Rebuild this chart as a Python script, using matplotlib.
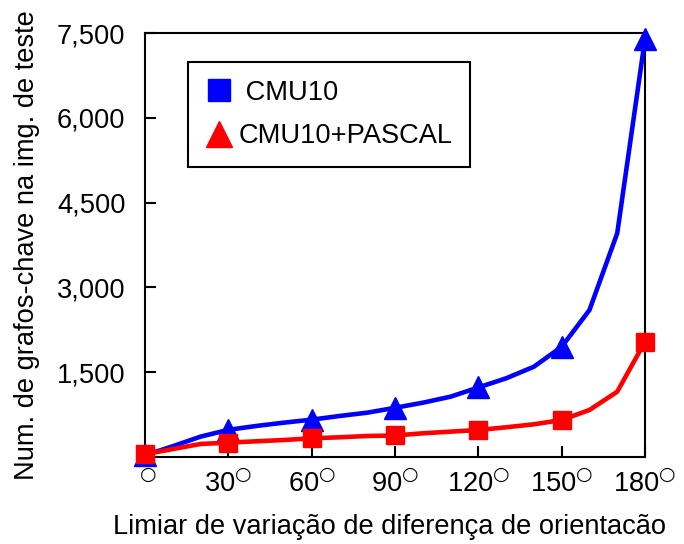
import matplotlib
matplotlib.use("Agg")
import matplotlib.pyplot as plt
from matplotlib.lines import Line2D

# thresholds (degrees), every 10
angles = [0, 10, 20, 30, 40, 50, 60, 70, 80, 90, 100, 110, 120, 130, 140, 150, 160, 170, 180]
cmu10 = [30, 190, 360, 480, 548, 607, 660, 725, 784, 870, 960, 1067, 1230, 1392, 1597, 1950, 2600, 3960, 7400]
cmu10_pascal = [50, 140, 230, 253, 277, 300, 330, 348, 371, 380, 419, 448, 477, 525, 578, 654, 831, 1155, 2040]
marker_angles = [0, 30, 60, 90, 120, 150, 180]

xtick_vals = [0, 30, 60, 90, 120, 150, 180]
xtick_labels = [" $^{\\bigcirc}$"] + [f"{v}$^{{\\bigcirc}}$" for v in xtick_vals[1:]]
ytick_vals = [1500, 3000, 4500, 6000, 7500]
ytick_labels = ["1,500", "3,000", "4,500", "6,000", "7,500"]

FS = 19.6
plt.rcParams["font.family"] = ["Liberation Sans", "DejaVu Sans"]
plt.rcParams["font.size"] = FS

fig = plt.figure(figsize=(6.84, 5.44), dpi=100)
ax = fig.add_axes([0.212, 0.16, 0.731, 0.779])

mk = [angles.index(a) for a in marker_angles]
ax.plot(angles, cmu10, color="#0000ff", lw=3.3, marker="^", ms=16,
        markevery=mk, clip_on=False, zorder=3)
ax.plot(angles, cmu10_pascal, color="#ff0000", lw=3.3, marker="s", ms=12.5,
        markevery=mk, clip_on=False, zorder=4)

ax.set_xlim(0, 180)
ax.set_ylim(0, 7500)
ax.set_xticks(xtick_vals)
ax.set_xticklabels(xtick_labels)
ax.set_yticks(ytick_vals)
ax.set_yticklabels(ytick_labels)
ax.tick_params(axis="both", direction="in", length=8, width=1.5, labelsize=FS)
ax.tick_params(axis="y", pad=14)
ax.tick_params(axis="x", pad=10)
for s in ax.spines.values():
    s.set_linewidth(1.5)

ax.set_xlabel("Limiar de variação de diferença de orientacão", fontsize=FS, labelpad=12)
ax.xaxis.set_label_coords(0.488, -0.135)
ax.set_ylabel("Num. de grafos-chave na img. de teste", fontsize=FS, labelpad=12)

# legend markers are swapped in the original figure
handles = [
    Line2D([], [], color="#0000ff", marker="s", ms=16, lw=0),
    Line2D([], [], color="#ff0000", marker="^", ms=19, lw=0),
]
leg = ax.legend(handles, [" CMU10", "CMU10+PASCAL"], loc="upper left",
                bbox_to_anchor=(0.086, 0.932), fancybox=False, framealpha=1,
                edgecolor="black", borderpad=0.65, labelspacing=0.65,
                handlelength=1.0, handletextpad=0.2, borderaxespad=0, fontsize=FS)
leg.get_frame().set_linewidth(1.5)

fig.savefig("out.png", dpi=100)
